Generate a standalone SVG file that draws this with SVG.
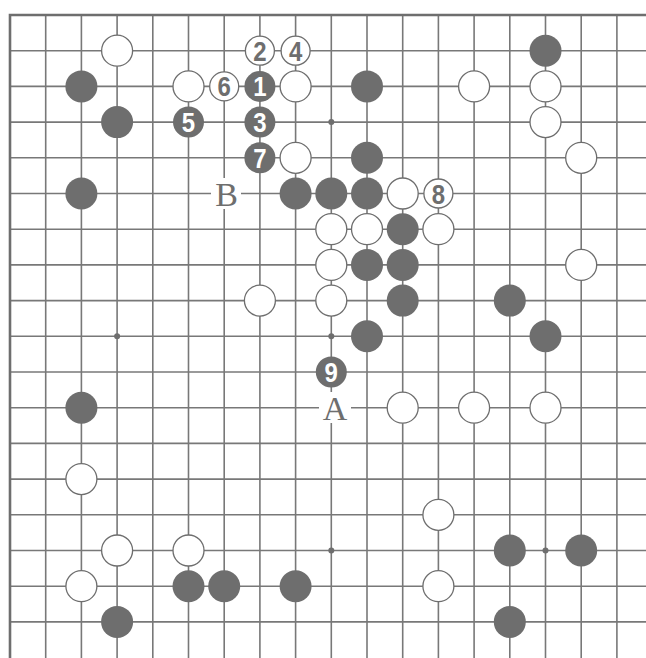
<svg xmlns="http://www.w3.org/2000/svg" width="646" height="658" viewBox="0 0 646 658">
<style>
.bg{fill:#ffffff}
.grid line{stroke:#787878;stroke-width:1.6}
.border{stroke:#6e6e6e;stroke-width:2.6;fill:none}
.b{fill:#6e6e6e}
.w{fill:#ffffff;stroke:#6e6e6e;stroke-width:1.3}
.wn{fill:#ffffff;stroke:#6e6e6e;stroke-width:1.3}
.star{fill:#6e6e6e}
.nb{font-family:"Liberation Sans",Arial,sans-serif;font-weight:bold;font-size:24px;fill:#ffffff;text-anchor:middle}
.nw{font-family:"Liberation Sans",Arial,sans-serif;font-weight:bold;font-size:24px;fill:#6e6e6e;text-anchor:middle}
.lab{font-family:"Liberation Serif","Times New Roman",serif;font-size:34px;fill:#6e6e6e;text-anchor:middle}
</style>
<rect class="bg" x="0" y="0" width="646" height="658"/>
<g id="connectors" class="grid">
<line x1="10" y1="50.7" x2="646" y2="50.7"/>
<line x1="10" y1="86.4" x2="646" y2="86.4"/>
<line x1="10" y1="122.1" x2="646" y2="122.1"/>
<line x1="10" y1="157.8" x2="646" y2="157.8"/>
<line x1="10" y1="193.5" x2="646" y2="193.5"/>
<line x1="10" y1="229.2" x2="646" y2="229.2"/>
<line x1="10" y1="264.9" x2="646" y2="264.9"/>
<line x1="10" y1="300.6" x2="646" y2="300.6"/>
<line x1="10" y1="336.3" x2="646" y2="336.3"/>
<line x1="10" y1="372" x2="646" y2="372"/>
<line x1="10" y1="407.7" x2="646" y2="407.7"/>
<line x1="10" y1="443.4" x2="646" y2="443.4"/>
<line x1="10" y1="479.1" x2="646" y2="479.1"/>
<line x1="10" y1="514.8" x2="646" y2="514.8"/>
<line x1="10" y1="550.5" x2="646" y2="550.5"/>
<line x1="10" y1="586.2" x2="646" y2="586.2"/>
<line x1="10" y1="621.9" x2="646" y2="621.9"/>
<line x1="45.7" y1="15" x2="45.7" y2="658"/>
<line x1="81.4" y1="15" x2="81.4" y2="658"/>
<line x1="117.1" y1="15" x2="117.1" y2="658"/>
<line x1="152.8" y1="15" x2="152.8" y2="658"/>
<line x1="188.5" y1="15" x2="188.5" y2="658"/>
<line x1="224.2" y1="15" x2="224.2" y2="658"/>
<line x1="259.9" y1="15" x2="259.9" y2="658"/>
<line x1="295.6" y1="15" x2="295.6" y2="658"/>
<line x1="331.3" y1="15" x2="331.3" y2="658"/>
<line x1="367" y1="15" x2="367" y2="658"/>
<line x1="402.7" y1="15" x2="402.7" y2="658"/>
<line x1="438.4" y1="15" x2="438.4" y2="658"/>
<line x1="474.1" y1="15" x2="474.1" y2="658"/>
<line x1="509.8" y1="15" x2="509.8" y2="658"/>
<line x1="545.5" y1="15" x2="545.5" y2="658"/>
<line x1="581.2" y1="15" x2="581.2" y2="658"/>
<line x1="616.9" y1="15" x2="616.9" y2="658"/>
<path class="border" d="M10,658 L10,15 L646,15"/>
</g>
<g id="stars">
<circle class="star" cx="331.3" cy="122.1" r="3"/>
<circle class="star" cx="117.1" cy="336.3" r="3"/>
<circle class="star" cx="331.3" cy="336.3" r="3"/>
<circle class="star" cx="331.3" cy="550.5" r="3"/>
<circle class="star" cx="545.5" cy="550.5" r="3"/>
</g>
<g id="black-stones">
<g id="b-2-2"><circle class="b" cx="81.4" cy="86.4" r="16"/></g>
<g id="b-10-2"><circle class="b" cx="367" cy="86.4" r="16"/></g>
<g id="b-15-1"><circle class="b" cx="545.5" cy="50.7" r="16"/></g>
<g id="b-3-3"><circle class="b" cx="117.1" cy="122.1" r="16"/></g>
<g id="b-10-4"><circle class="b" cx="367" cy="157.8" r="16"/></g>
<g id="b-2-5"><circle class="b" cx="81.4" cy="193.5" r="16"/></g>
<g id="b-8-5"><circle class="b" cx="295.6" cy="193.5" r="16"/></g>
<g id="b-9-5"><circle class="b" cx="331.3" cy="193.5" r="16"/></g>
<g id="b-10-5"><circle class="b" cx="367" cy="193.5" r="16"/></g>
<g id="b-11-6"><circle class="b" cx="402.7" cy="229.2" r="16"/></g>
<g id="b-10-7"><circle class="b" cx="367" cy="264.9" r="16"/></g>
<g id="b-11-7"><circle class="b" cx="402.7" cy="264.9" r="16"/></g>
<g id="b-11-8"><circle class="b" cx="402.7" cy="300.6" r="16"/></g>
<g id="b-14-8"><circle class="b" cx="509.8" cy="300.6" r="16"/></g>
<g id="b-10-9"><circle class="b" cx="367" cy="336.3" r="16"/></g>
<g id="b-15-9"><circle class="b" cx="545.5" cy="336.3" r="16"/></g>
<g id="b-2-11"><circle class="b" cx="81.4" cy="407.7" r="16"/></g>
<g id="b-14-15"><circle class="b" cx="509.8" cy="550.5" r="16"/></g>
<g id="b-16-15"><circle class="b" cx="581.2" cy="550.5" r="16"/></g>
<g id="b-5-16"><circle class="b" cx="188.5" cy="586.2" r="16"/></g>
<g id="b-6-16"><circle class="b" cx="224.2" cy="586.2" r="16"/></g>
<g id="b-8-16"><circle class="b" cx="295.6" cy="586.2" r="16"/></g>
<g id="b-3-17"><circle class="b" cx="117.1" cy="621.9" r="16"/></g>
<g id="b-14-17"><circle class="b" cx="509.8" cy="621.9" r="16"/></g>
</g>
<g id="white-stones">
<g id="w-3-1"><circle class="w" cx="117.1" cy="50.7" r="15.5"/></g>
<g id="w-5-2"><circle class="w" cx="188.5" cy="86.4" r="15.5"/></g>
<g id="w-8-2"><circle class="w" cx="295.6" cy="86.4" r="15.5"/></g>
<g id="w-13-2"><circle class="w" cx="474.1" cy="86.4" r="15.5"/></g>
<g id="w-15-2"><circle class="w" cx="545.5" cy="86.4" r="15.5"/></g>
<g id="w-15-3"><circle class="w" cx="545.5" cy="122.1" r="15.5"/></g>
<g id="w-8-4"><circle class="w" cx="295.6" cy="157.8" r="15.5"/></g>
<g id="w-16-4"><circle class="w" cx="581.2" cy="157.8" r="15.5"/></g>
<g id="w-11-5"><circle class="w" cx="402.7" cy="193.5" r="15.5"/></g>
<g id="w-9-6"><circle class="w" cx="331.3" cy="229.2" r="15.5"/></g>
<g id="w-10-6"><circle class="w" cx="367" cy="229.2" r="15.5"/></g>
<g id="w-12-6"><circle class="w" cx="438.4" cy="229.2" r="15.5"/></g>
<g id="w-9-7"><circle class="w" cx="331.3" cy="264.9" r="15.5"/></g>
<g id="w-16-7"><circle class="w" cx="581.2" cy="264.9" r="15.5"/></g>
<g id="w-7-8"><circle class="w" cx="259.9" cy="300.6" r="15.5"/></g>
<g id="w-9-8"><circle class="w" cx="331.3" cy="300.6" r="15.5"/></g>
<g id="w-11-11"><circle class="w" cx="402.7" cy="407.7" r="15.5"/></g>
<g id="w-13-11"><circle class="w" cx="474.1" cy="407.7" r="15.5"/></g>
<g id="w-15-11"><circle class="w" cx="545.5" cy="407.7" r="15.5"/></g>
<g id="w-2-13"><circle class="w" cx="81.4" cy="479.1" r="15.5"/></g>
<g id="w-12-14"><circle class="w" cx="438.4" cy="514.8" r="15.5"/></g>
<g id="w-3-15"><circle class="w" cx="117.1" cy="550.5" r="15.5"/></g>
<g id="w-5-15"><circle class="w" cx="188.5" cy="550.5" r="15.5"/></g>
<g id="w-2-16"><circle class="w" cx="81.4" cy="586.2" r="15.5"/></g>
<g id="w-12-16"><circle class="w" cx="438.4" cy="586.2" r="15.5"/></g>
</g>
<g id="numbered-moves">
<g id="m1"><circle class="b" cx="259.9" cy="86.4" r="15.5"/><text class="nb" transform="translate(259.9,86.4) scale(1,1.17)" x="0" y="8.6">1</text></g>
<g id="m2"><circle class="wn" cx="259.9" cy="50.7" r="14.5"/><text class="nw" transform="translate(259.9,50.7) scale(1,1.17)" x="0" y="8.6">2</text></g>
<g id="m3"><circle class="b" cx="259.9" cy="122.1" r="15.5"/><text class="nb" transform="translate(259.9,122.1) scale(1,1.17)" x="0" y="8.6">3</text></g>
<g id="m4"><circle class="wn" cx="295.6" cy="50.7" r="14.5"/><text class="nw" transform="translate(295.6,50.7) scale(1,1.17)" x="0" y="8.6">4</text></g>
<g id="m5"><circle class="b" cx="188.5" cy="122.1" r="15.5"/><text class="nb" transform="translate(188.5,122.1) scale(1,1.17)" x="0" y="8.6">5</text></g>
<g id="m6"><circle class="wn" cx="224.2" cy="86.4" r="14.5"/><text class="nw" transform="translate(224.2,86.4) scale(1,1.17)" x="0" y="8.6">6</text></g>
<g id="m7"><circle class="b" cx="259.9" cy="157.8" r="15.5"/><text class="nb" transform="translate(259.9,157.8) scale(1,1.17)" x="0" y="8.6">7</text></g>
<g id="m8"><circle class="wn" cx="438.4" cy="193.5" r="14.5"/><text class="nw" transform="translate(438.4,193.5) scale(1,1.17)" x="0" y="8.6">8</text></g>
<g id="m9"><circle class="b" cx="331.3" cy="372" r="15.5"/><text class="nb" transform="translate(331.3,372) scale(1,1.17)" x="0" y="8.6">9</text></g>
</g>
<g id="labels">
<g id="label-B"><rect class="bg" x="211" y="178" width="30" height="31"/><text class="lab" x="226.5" y="205.5">B</text></g>
<g id="label-A"><rect class="bg" x="319" y="392" width="32" height="31"/><text class="lab" x="335" y="419.5">A</text></g>
</g>
</svg>
